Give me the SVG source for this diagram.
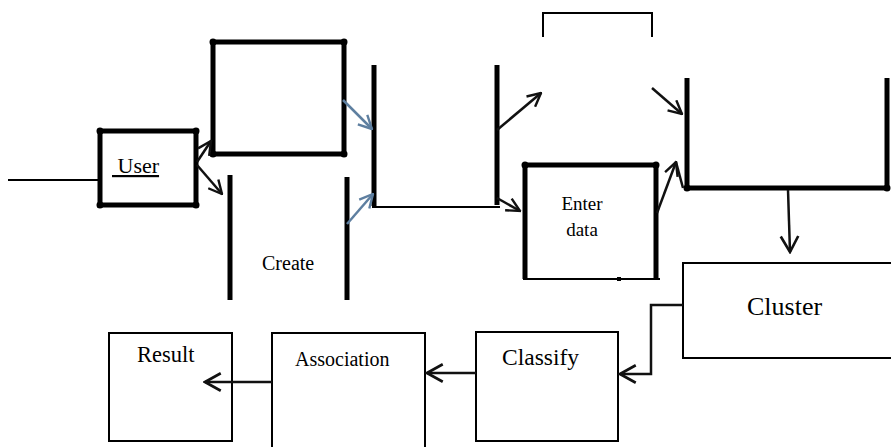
<svg xmlns="http://www.w3.org/2000/svg" width="891" height="447" viewBox="0 0 891 447">
<style>
.thick{stroke:#000;stroke-width:5;fill:none;stroke-linecap:butt}
.thin{stroke:#000;stroke-width:2;fill:none}
.dot{fill:#000}
.conn{stroke:#111;stroke-width:2.5;fill:none}
.blue{stroke:#5e7fa0;stroke-width:2.5;fill:none}
.t{font-family:"Liberation Serif","Times New Roman",serif;fill:#000}
</style>
<defs>
<marker id="ah" viewBox="0 0 12 12" refX="11" refY="6" markerWidth="16" markerHeight="16" markerUnits="userSpaceOnUse" orient="auto">
<path d="M1,1 L11,6 L1,11" fill="none" stroke="#111" stroke-width="1.8"/>
</marker>
<marker id="ahL" viewBox="0 0 12 12" refX="11" refY="6" markerWidth="21" markerHeight="21" markerUnits="userSpaceOnUse" orient="auto">
<path d="M2,1 L11,6 L2,11" fill="none" stroke="#111" stroke-width="1.5"/>
</marker>
<marker id="ahb" viewBox="0 0 12 12" refX="11" refY="6" markerWidth="16" markerHeight="16" markerUnits="userSpaceOnUse" orient="auto">
<path d="M1,1 L11,6 L1,11" fill="none" stroke="#5e7fa0" stroke-width="1.8"/>
</marker>
</defs>
<rect width="891" height="447" fill="#fff"/>

<g id="input">
<line class="thin" x1="8" y1="180" x2="99" y2="180"/>
</g>

<g id="user">
<rect class="thick" x="100" y="131" width="96" height="74"/>
<circle class="dot" cx="100" cy="131" r="3.5"/><circle class="dot" cx="196" cy="131" r="3.5"/>
<circle class="dot" cx="100" cy="205" r="3.5"/><circle class="dot" cx="196" cy="205" r="3.5"/>
<text class="t" x="112" y="173" font-size="22" text-decoration="underline" xml:space="preserve">&#160;User</text>
</g>

<g id="topbox">
<rect class="thick" x="213" y="42" width="131" height="112"/>
<circle class="dot" cx="213" cy="42" r="3.5"/><circle class="dot" cx="344" cy="42" r="3.5"/>
<circle class="dot" cx="213" cy="154" r="3.5"/><circle class="dot" cx="344" cy="154" r="3.5"/>
</g>

<g id="create">
<line class="thick" x1="230" y1="175" x2="230" y2="300"/>
<line class="thick" x1="347" y1="177" x2="347" y2="300"/>
<text class="t" x="262" y="270" font-size="20">Create</text>
</g>

<g id="store1">
<line class="thick" x1="374" y1="65" x2="374" y2="206"/>
<line class="thick" x1="497" y1="65" x2="497" y2="205"/>
</g>

<g id="bracket">
<path class="thin" d="M543,37 V13 H652 V37"/>
</g>

<g id="enterdata">
<line class="thick" x1="525" y1="165" x2="656" y2="165"/>
<line class="thick" x1="525" y1="165" x2="525" y2="279"/>
<line class="thick" x1="656" y1="165" x2="656" y2="279"/>
<line class="thin" x1="523" y1="279" x2="660" y2="279"/>
<rect x="617" y="277" width="4" height="4" fill="#000"/>
<circle class="dot" cx="525" cy="165" r="3.5"/><circle class="dot" cx="656" cy="165" r="3.5"/>
<text class="t" font-size="19" text-anchor="middle"><tspan x="582" y="210">Enter</tspan><tspan x="582" y="236">data</tspan></text>
</g>

<g id="store2">
<line class="thick" x1="687" y1="78" x2="687" y2="188"/>
<line class="thick" x1="687" y1="188" x2="887" y2="188"/>
<line class="thick" x1="887" y1="78" x2="887" y2="188"/>
<circle class="dot" cx="687" cy="188" r="3.5"/><circle class="dot" cx="887" cy="188" r="3.5"/>
</g>

<g id="cluster">
<rect class="thin" x="683" y="263" width="230" height="95"/>
<text class="t" x="747" y="315" font-size="26">Cluster</text>
</g>

<g id="classify">
<rect class="thin" x="476" y="332" width="142" height="109"/>
<text class="t" x="502" y="365" font-size="23.5">Classify</text>
</g>

<g id="association">
<rect class="thin" x="272" y="333" width="153" height="130"/>
<text class="t" x="295" y="366" font-size="20">Association</text>
</g>

<g id="result">
<rect class="thin" x="109" y="333" width="123" height="108"/>
<text class="t" x="137" y="362" font-size="22.5">Result</text>
</g>

<g id="connectors">
<line class="conn" x1="197" y1="162" x2="211" y2="141" marker-end="url(#ah)"/>
<line class="conn" x1="197" y1="165" x2="222" y2="194" marker-end="url(#ah)"/>
<line class="blue" x1="343" y1="100" x2="372" y2="129" marker-end="url(#ahb)"/>
<line class="blue" x1="347" y1="224" x2="373" y2="194" marker-end="url(#ahb)"/>
<line class="thin" x1="372" y1="207" x2="500" y2="207"/>
<line class="conn" x1="497" y1="130" x2="541" y2="93" marker-end="url(#ah)"/>
<line class="conn" x1="497" y1="198" x2="520" y2="211" marker-end="url(#ah)"/>
<line class="conn" x1="652" y1="88" x2="682" y2="114" marker-end="url(#ah)"/>
<line class="conn" x1="657" y1="213" x2="676" y2="162" marker-end="url(#ah)"/>
<line class="conn" x1="676" y1="162" x2="683" y2="188"/>
<line class="conn" x1="788" y1="190" x2="790" y2="252" marker-end="url(#ahL)"/>
<polyline class="conn" points="683,305 651,305 651,374 620,374" marker-end="url(#ahL)"/>
<line class="conn" x1="476" y1="373" x2="427" y2="373" marker-end="url(#ahL)"/>
<line class="conn" x1="272" y1="382" x2="205" y2="382" marker-end="url(#ahL)"/>
</g>
</svg>
